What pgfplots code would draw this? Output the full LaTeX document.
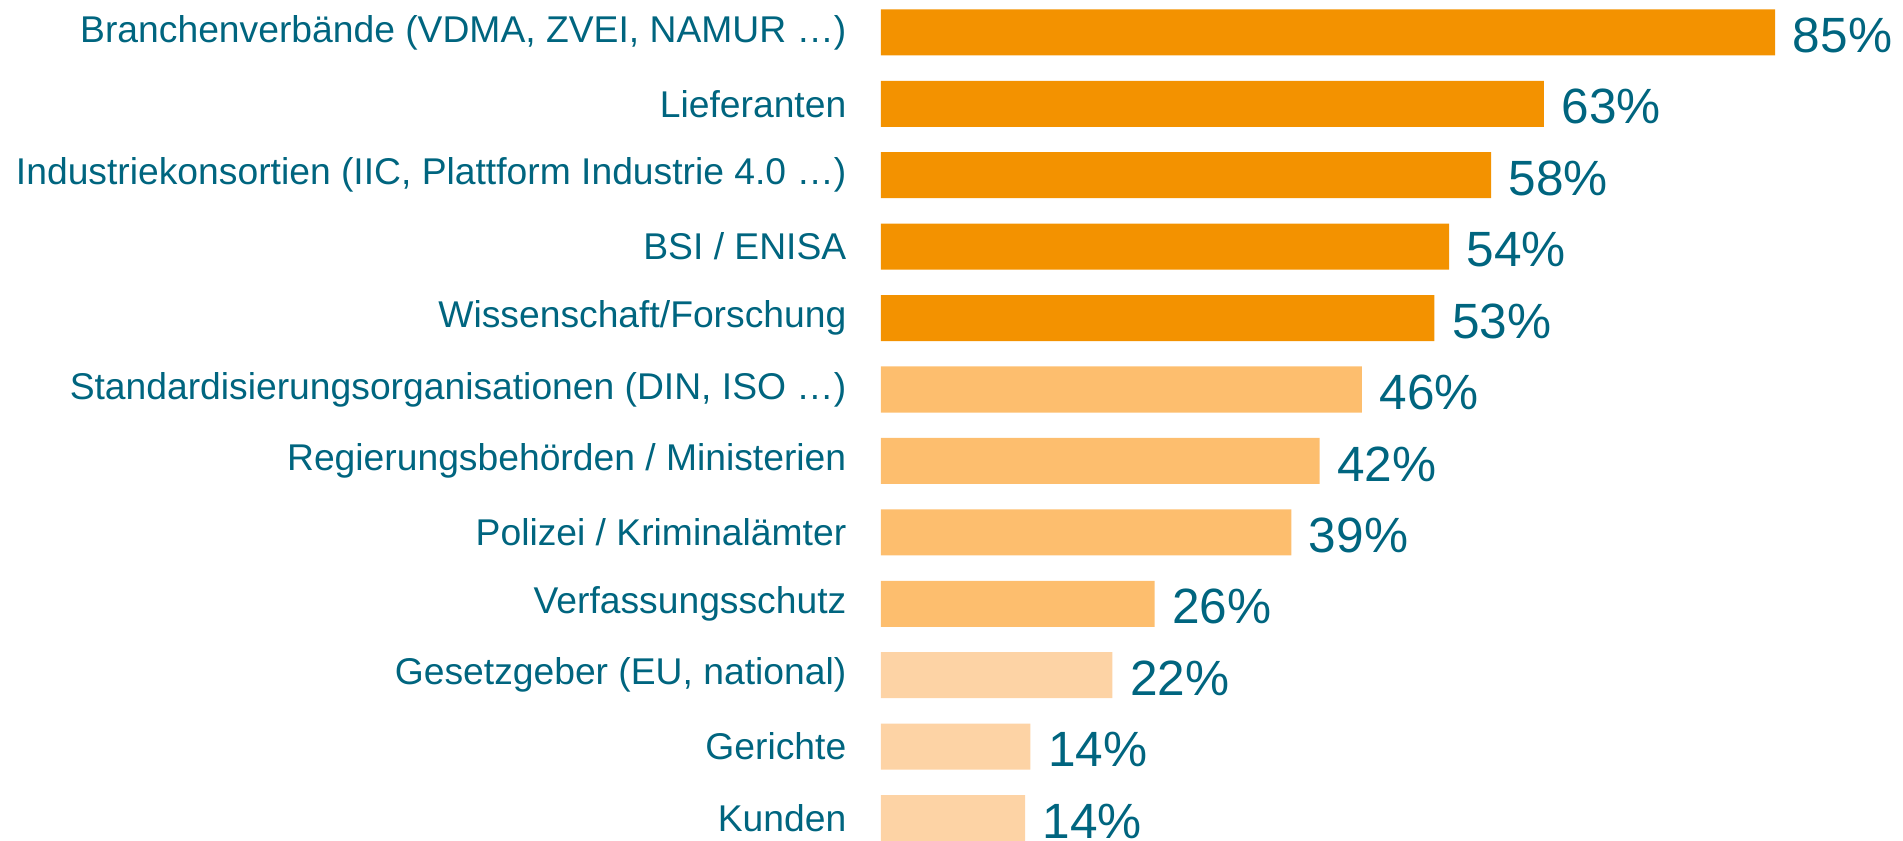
\documentclass[border=0pt]{standalone}
\usepackage{fontspec}
\setmainfont{Liberation Sans}
\usepackage{pgfplots}
\pgfplotsset{compat=1.18}
\definecolor{barDark}{HTML}{F39200}
\definecolor{barMid}{HTML}{FDBE6E}
\definecolor{barLight}{HTML}{FDD3A5}
\definecolor{txt}{HTML}{00657F}
\begin{document}
\begin{tikzpicture}
\useasboundingbox (-88.1mm,1.37mm) rectangle (102.2mm,85.37mm);
\begin{axis}[
    at={(0,0)}, anchor=south west,
    scale only axis, width=101mm, height=85.7mm,
    xbar, bar width=4.6mm, bar shift=0pt,
    xmin=0, xmax=96, ymin=-0.5, ymax=11.5, y dir=reverse,
    axis line style={draw=none},
    xtick=\empty,
    ytick={0,...,11},
    major tick length=0pt,
    /pgf/number format/assume math mode=true,
    yticklabels={
        {Branchenverbände (VDMA, ZVEI, NAMUR …)},
        {Lieferanten},
        {Industriekonsortien (IIC, Plattform Industrie 4.0 …)},
        {BSI / ENISA},
        {Wissenschaft/Forschung},
        {Standardisierungsorganisationen (DIN, ISO …)},
        {Regierungsbehörden / Ministerien},
        {Polizei / Kriminalämter},
        {Verfassungsschutz},
        {Gesetzgeber (EU, national)},
        {Gerichte},
        {Kunden}},
    yticklabel style={font=\fontsize{10.6pt}{12pt}\selectfont, text=txt,
        inner sep=0pt, anchor=east, xshift=-3.4mm},
    nodes near coords={\pgfmathprintnumber[fixed,precision=0,assume math mode=true]{\pgfplotspointmeta}\%},
    nodes near coords align={horizontal},
    every node near coord/.append style={font=\fontsize{14.1pt}{16pt}\selectfont,
        text=txt, inner sep=0pt, anchor=west, xshift=1.7mm, yshift=-0.3mm},
]
\addplot[fill=barDark, draw=none] coordinates {
    (85,0) (63,1) (58,2) (54,3) (52.6,4)
};
\addplot[fill=barMid, draw=none] coordinates {
    (45.7,5) (41.7,6) (39,7) (26,8)
};
\addplot[fill=barLight, draw=none] coordinates {
    (22,9) (14.2,10) (13.7,11)
};
\end{axis}
\end{tikzpicture}
\end{document}
